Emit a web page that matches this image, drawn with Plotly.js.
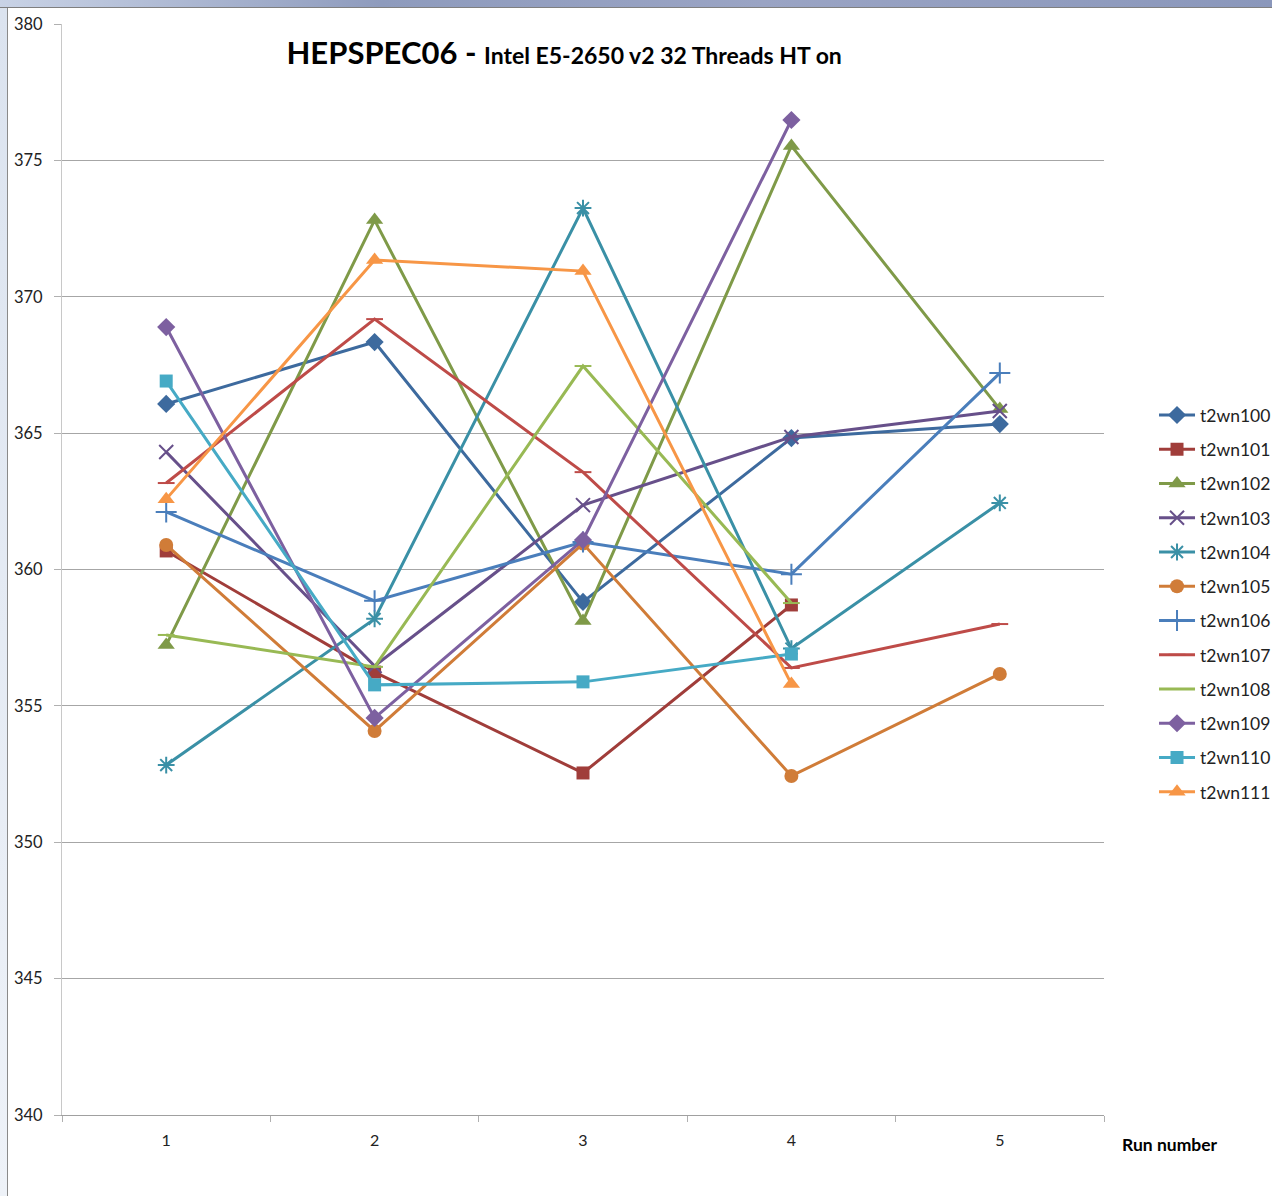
<!DOCTYPE html>
<html>
<head>
<meta charset="utf-8">
<script src="https://cdn.plot.ly/plotly-3.0.1.min.js"></script>
<style>
  html, body { margin: 0; padding: 0; width: 1272px; height: 1196px; overflow: hidden; background: #ffffff; }
  #topbar { position: absolute; left: 0; top: 0; width: 1272px; height: 7px; background: linear-gradient(to right, #c9d3e6, #8e9bbd 30%, #9aa4c4 60%, #8a97bb); border-bottom: 1px solid #7f7f7f; }
  #leftbar { position: absolute; left: 0; top: 8px; width: 7px; height: 1188px; background: linear-gradient(to bottom, #dbe3ef, #eef2f8); border-right: 1px solid #8a8a8a; }
  #chart { position: absolute; left: 8px; top: 8px; width: 1264px; height: 1188px; }
</style>
</head>
<body>
<div id="topbar"></div>
<div id="leftbar"></div>
<div id="chart"></div>
<script>
// ---- data ----
const runs = [1, 2, 3, 4, 5];
const seriesNames = ["t2wn100","t2wn101","t2wn102","t2wn103","t2wn104","t2wn105","t2wn106","t2wn107","t2wn108","t2wn109","t2wn110","t2wn111"];
const t2wn100 = [366.07, 368.34, 358.81, 364.82, 365.33];
const t2wn101 = [360.68, 356.24, 352.54, 358.70];
const t2wn102 = [357.23, 372.81, 358.11, 375.53, 365.88];
const t2wn103 = [364.31, 356.46, 362.36, 364.86, 365.81];
const t2wn104 = [352.83, 358.19, 373.25, 357.10, 362.44];
const t2wn105 = [360.90, 354.08, 360.95, 352.43, 356.17];
const t2wn106 = [362.11, 358.85, 361.01, 359.83, 367.20];
const t2wn107 = [363.17, 369.18, 363.57, 356.39, 358.00];
const t2wn108 = [357.60, 356.43, 367.46, 358.77];
const t2wn109 = [368.89, 354.56, 361.08, 376.48];
const t2wn110 = [366.91, 355.77, 355.88, 356.90];
const t2wn111 = [362.58, 371.35, 370.94, 355.80];
const seriesValues = [t2wn100,t2wn101,t2wn102,t2wn103,t2wn104,t2wn105,t2wn106,t2wn107,t2wn108,t2wn109,t2wn110,t2wn111];

// ---- styles ----
const colors = ["#3d6a9e","#a03d3a","#7f9a48","#67508a","#3a90a6","#d07c38","#4a7ebb","#be4b48","#98b954","#7d60a0","#46aac5","#f79646"];
const symbols = ["diamond","square","triangle-up","x-thin-open","asterisk-open","circle","cross-thin-open","line-ew-open","line-ew-open","diamond","square","triangle-up"];
const sizes = [14,13,15,14,14,14,15,12,12,14,13,15];

const traces = seriesNames.map((name, i) => {
  const openSym = symbols[i].endsWith("-open");
  return {
    type: "scatter",
    mode: "lines+markers",
    name: name,
    legendgroup: name,
    x: runs.slice(0, seriesValues[i].length),
    y: seriesValues[i],
    line: { color: colors[i], width: 3 },
    marker: {
      symbol: symbols[i],
      size: sizes[i],
      color: colors[i],
      line: { color: colors[i], width: openSym ? 2 : 0 }
    }
  };
});

const fontFam = "Lato, 'Open Sans', 'DejaVu Sans', sans-serif";

const layout = {
  width: 1264,
  height: 1188,
  margin: { l: 54, r: 168, t: 16, b: 81, autoexpand: false },
  paper_bgcolor: "#ffffff",
  plot_bgcolor: "#ffffff",
  font: { family: fontFam, size: 16, color: "#222222" },
  title: {
    text: "<b>HEPSPEC06 - </b><b><span style=\"font-size:23px\">Intel E5-2650 v2 32 Threads HT on</span></b>",
    font: { family: fontFam, size: 31, color: "#000000" },
    x: 0.44, xanchor: "center",
    y: 0.962, yanchor: "middle", yref: "container"
  },
  showlegend: true,
  legend: {
    x: 1.048, xanchor: "left",
    y: 0.658, yanchor: "top",
    font: { family: fontFam, size: 17.5, color: "#222222" },
    tracegroupgap: 8.5,
    traceorder: "grouped",
    itemwidth: 36,
    bgcolor: "rgba(0,0,0,0)",
    itemclick: false
  },
  xaxis: {
    range: [0.5, 5.5],
    tickmode: "array",
    tickvals: runs,
    ticktext: runs.map(String),
    ticks: "",
    ticklabelstandoff: 11,
    showgrid: false,
    zeroline: false,
    showline: true,
    linecolor: "#a0a0a0",
    linewidth: 1,
    tickfont: { family: fontFam, size: 16, color: "#222222" },
    minor: { tickmode: "linear", tick0: 0.5, dtick: 1, ticks: "outside", ticklen: 6, tickcolor: "#b0b0b0", tickwidth: 1, showgrid: false }
  },
  yaxis: {
    range: [340, 380],
    dtick: 5,
    tick0: 340,
    ticks: "outside",
    ticklen: 7,
    tickcolor: "#b0b0b0",
    ticklabelstandoff: 8,
    showgrid: true,
    gridcolor: "#a6a6a6",
    gridwidth: 1,
    zeroline: false,
    showline: true,
    linecolor: "#c8c8c8",
    linewidth: 1,
    tickfont: { family: fontFam, size: 16.5, color: "#222222" }
  },
  annotations: [
    {
      text: "<b>Run number</b>",
      xref: "paper", yref: "paper",
      x: 1.0153, xanchor: "left",
      y: -0.0266, yanchor: "middle",
      showarrow: false,
      font: { family: fontFam, size: 17.5, color: "#000000" }
    }
  ]
};

Plotly.newPlot("chart", traces, layout, { displayModeBar: false, staticPlot: true });
</script>
</body>
</html>
